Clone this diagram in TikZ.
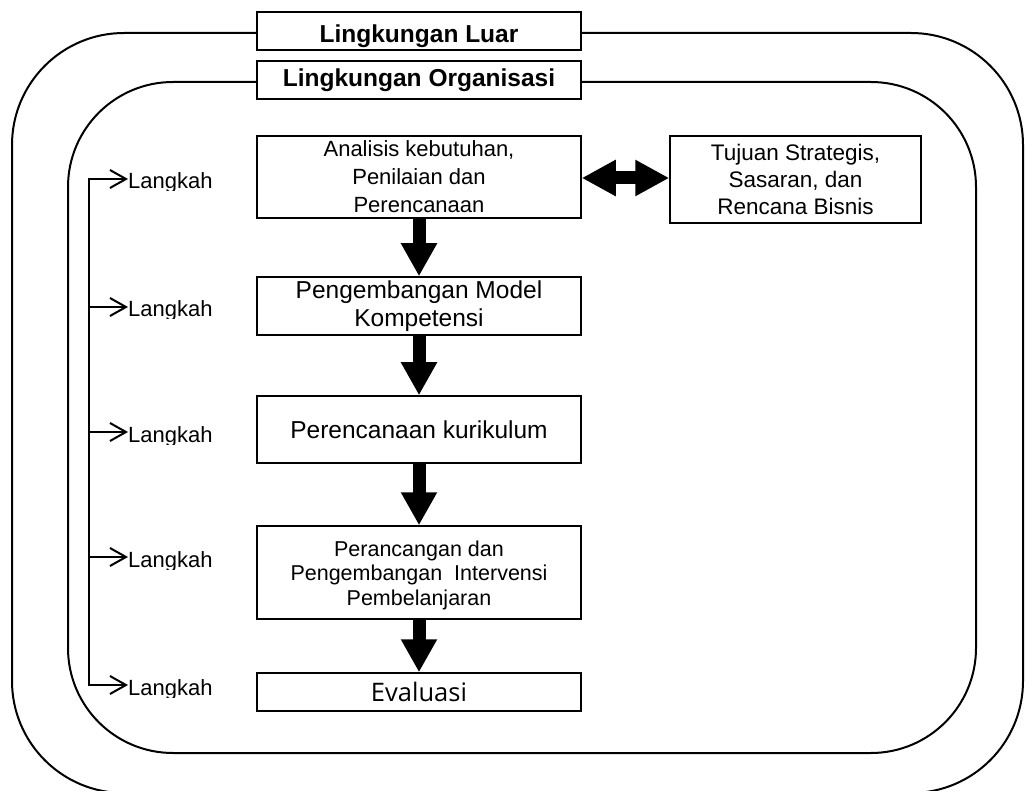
\documentclass[tikz,border=0pt]{standalone}
\usepackage{fontspec}
\setmainfont{Liberation Sans}
\newfontfamily\evalfont{Open Sans}
\usetikzlibrary{arrows.meta}
\newcommand{\fs}[2]{\fontsize{#1}{#2}\selectfont}
\begin{document}
\begin{tikzpicture}[x=1pt,y=-1pt,
  ring/.style={draw, line width=2pt},
  titlebox/.style={draw, line width=1.6pt, fill=white, inner sep=0pt,
    minimum width=324pt, minimum height=38pt, text depth=0pt,
    font=\bfseries\fs{24.5}{28}},
  stepbox/.style={draw, line width=1.5pt, fill=white, inner sep=0pt,
    align=center, minimum width=324pt},
  fat/.style={line width=13pt, -{Triangle[width=34pt,length=33pt]}},
  fatboth/.style={line width=13pt,
    {Triangle[width=34pt,length=34pt]}-{Triangle[width=34pt,length=34pt]}},
  lk/.style={line width=2pt, line join=miter},
  barb/.tip={Straight Barb[length=16pt,width=18pt,line width=2pt]},
  lktext/.style={anchor=base west, inner sep=0pt, font=\fs{22}{26}}
]
\useasboundingbox (0,0) rectangle (1025,791);

% outer and inner environments
\draw[ring, rounded corners=112pt] (12,33) rectangle (1023,793);
\draw[ring, rounded corners=105pt] (68,82) rectangle (976,753);

% environment labels
\node[titlebox, text height=23pt] (luar) at (419,31) {Lingkungan Luar};
\node[titlebox, text height=13pt] (org)  at (419,80) {Lingkungan Organisasi};

% process steps
\node[stepbox, minimum height=82pt, font=\fs{22}{28}] (b1) at (419,177)
  {Analisis kebutuhan,\\Penilaian dan\\Perencanaan};
\node[stepbox, minimum height=58pt, font=\fs{24.5}{28}] (b2) at (419,306)
  {Pengembangan Model\\Kompetensi};
\node[stepbox, minimum height=67pt, font=\fs{24.5}{28}] (b3) at (419,429.5)
  {Perencanaan kurikulum};
\node[stepbox, minimum height=93pt, font=\fs{21.5}{24.5}] (b4) at (419,572.5)
  {\rule{0pt}{21pt}Perancangan dan\\Pengembangan\ \ Intervensi\\Pembelanjaran};
\node[stepbox, minimum height=38pt, font=\evalfont\fs{25.5}{28}] (b5) at (419,692)
  {Evaluasi};

% strategic goals
\node[stepbox, minimum width=251pt, minimum height=87pt, font=\fs{22.5}{27}]
  (tj) at (795.5,179.5) {Tujuan Strategis,\\Sasaran, dan\\Rencana Bisnis};

% flow arrows
\draw[fat] (b1.south) -- (b2.north);
\draw[fat] (b2.south) -- (b3.north);
\draw[fat] (b3.south) -- (b4.north);
\draw[fat] (b4.south) -- (b5.north);
\draw[fatboth] (b1.east |- 0,178) -- (tj.west |- 0,178);

% step labels, cut just below the baseline
\foreach \i/\y in {1/179,2/307,3/432,4/557,5/685}{
  \begin{scope}
    \clip (120,\y-20) rectangle (240,\y+12);
    \node[lktext] (l\i) at (128,\y+10) {Langkah};
  \end{scope}
  \coordinate (s\i) at (89,\y);
}
\draw[lk, {barb}-{barb}] (s1 -| l1.west) -- (s1) -- (s5) -- (s5 -| l5.west);
\draw[lk, -{barb}] (s2) -- (s2 -| l2.west);
\draw[lk, -{barb}] (s3) -- (s3 -| l3.west);
\draw[lk, -{barb}] (s4) -- (s4 -| l4.west);
\end{tikzpicture}
\end{document}
